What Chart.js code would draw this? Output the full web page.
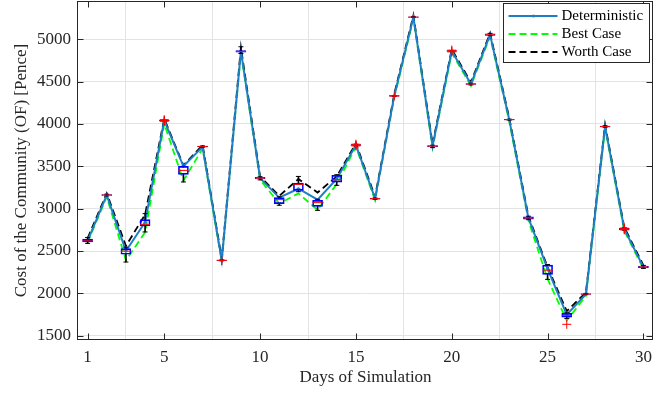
<!DOCTYPE html>
<html>
<head>
<meta charset="utf-8">
<script src="https://cdn.jsdelivr.net/npm/chart.js@4.4.0/dist/chart.umd.min.js"></script>
<style>
  html, body { margin: 0; padding: 0; background: #fff; }
</style>
</head>
<body>
<canvas id="chart" width="670" height="394"></canvas>
<script>
/* -------------------------------------
   DATA
------------------------------------- */
const days = [1,2,3,4,5,6,7,8,9,10,11,12,13,14,15,16,17,18,19,20,21,22,23,24,25,26,27,28,29,30];
const xTicks = [1, 5, 10, 15, 20, 25, 30];
const yTicks = [1500, 2000, 2500, 3000, 3500, 4000, 4500, 5000];

const deterministic = [2620,3160,2500,2840,4040,3500,3730,2390,4860,3360,3130,3235,3105,3350,3750,3120,4330,5260,3740,4860,4470,5050,4050,2890,2290,1750,1990,3970,2760,2310];
const bestCase      = [2600,3140,2390,2720,4000,3330,3710,2375,4840,3340,3060,3180,2985,3290,3730,3100,4310,5240,3720,4840,4450,5030,4030,2860,2170,1680,1970,3950,2740,2290];
const worthCase     = [2650,3180,2560,2930,4060,3510,3750,2410,4900,3380,3150,3350,3190,3380,3770,3140,4350,5280,3760,4880,4490,5070,4070,2910,2310,1790,2010,3990,2780,2330];

// boxplot statistics per day
const boxLow  = [2590,3150,2370,2725,4035,3315,3725,2385,4830,3340,3040,3200,2980,3275,3740,3110,4325,5255,3720,4855,4460,5040,4045,2870,2165,1705,1985,3960,2745,2295];
const boxQ1   = [2607,3155,2462,2795,4037,3404,3727,2388,4845,3352,3059,3215,3027,3313,3745,3113,4327,5257,3732,4857,4465,5045,4047,2877,2224,1718,1988,3963,2752,2303];
const boxMed  = [2620,3160,2498,2815,4040,3451,3732,2390,4855,3360,3106,3286,3071,3341,3750,3118,4330,5260,3738,4860,4470,5052,4050,2890,2274,1740,1992,3968,2760,2312];
const boxQ3   = [2640,3165,2529,2870,4043,3498,3737,2392,4865,3368,3129,3301,3098,3392,3755,3123,4333,5263,3744,4863,4476,5062,4053,2903,2333,1765,1996,3973,2768,2322];
const boxHigh = [2660,3170,2545,2941,4045,3500,3740,2395,4910,3375,3140,3380,3110,3400,3760,3125,4335,5265,3748,4865,4480,5068,4055,2910,2340,1770,2000,3978,2775,2330];

// outliers (red +)
const outlierDays   = [5,5,5,8,15,15,15,17,20,20,20,26,29,29,29];
const outlierValues = [4030,4040,4050,2388,3740,3750,3760,4330,4850,4860,4870,1635,2750,2760,2770];

/* -------------------------------------
   STYLE
------------------------------------- */
const axisColor = '#262626';
const gridColor = '#e3e3e3';
const font = { family: '"Liberation Serif", "Times New Roman", serif', size: 17, lineHeight: 1.2 };

const pts = arr => days.map((d, i) => ({ x: d, y: arr[i] }));
const span = (a, b) => days.map((d, i) => ({ x: d, y: [a[i], b[i]] }));

/* -------------------------------------
   FRAME + INWARD TICKS (MATLAB look)
------------------------------------- */
const framePlugin = {
    id: 'frame',
    afterDraw(chart) {
        const { ctx, chartArea: a, scales: { x, y } } = chart;
        const L = Math.round(a.left) - 0.5, R = Math.round(a.right) - 0.5;
        const T = Math.round(a.top) + 0.5, B = Math.round(a.bottom) - 0.5;
        ctx.save();
        ctx.strokeStyle = axisColor;
        ctx.lineWidth = 1;
        ctx.beginPath();
        x.ticks.forEach(t => {
            const px = Math.round(x.getPixelForValue(t.value)) + 0.5;
            ctx.moveTo(px, B); ctx.lineTo(px, B - 6);
            ctx.moveTo(px, T); ctx.lineTo(px, T + 6);
        });
        y.ticks.forEach(t => {
            const py = Math.round(y.getPixelForValue(t.value)) + 0.5;
            ctx.moveTo(L, py); ctx.lineTo(L + 6, py);
            ctx.moveTo(R, py); ctx.lineTo(R - 6, py);
        });
        ctx.stroke();
        ctx.strokeRect(L, T, R - L, B - T);
        ctx.restore();
    }
};

/* -------------------------------------
   LEGEND BOX (top right inside the axes)
------------------------------------- */
const legendPlugin = {
    id: 'boxLegend',
    afterDraw(chart) {
        const { ctx, chartArea: a } = chart;
        const w = 146, h = 59;
        const x0 = Math.round(a.right) - 4 - w + 0.5, y0 = Math.round(a.top) + 2.5;
        ctx.save();
        ctx.fillStyle = '#fff';
        ctx.fillRect(x0, y0, w, h);
        ctx.strokeStyle = axisColor;
        ctx.lineWidth = 1;
        ctx.strokeRect(x0, y0, w, h);
        ctx.font = '15px "Liberation Serif", "Times New Roman", serif';
        ctx.textBaseline = 'middle';
        ctx.fillStyle = '#000';
        chart.data.datasets.filter(ds => ds.label).forEach((ds, i) => {
            const cy = y0 + 12.5 + i * 18;
            ctx.save();
            ctx.strokeStyle = ds.borderColor;
            ctx.lineWidth = ds.borderWidth;
            ctx.setLineDash(ds.borderDash || []);
            ctx.beginPath();
            ctx.moveTo(x0 + 5, cy);
            ctx.lineTo(x0 + 54, cy);
            ctx.stroke();
            if (ds.pointRadius) {
                ctx.fillStyle = ds.borderColor;
                ctx.beginPath();
                ctx.arc(x0 + 30, cy, ds.pointRadius, 0, Math.PI * 2);
                ctx.fill();
            }
            ctx.restore();
            ctx.fillText(ds.label, x0 + 58, cy);
        });
        ctx.restore();
    }
};

/* -------------------------------------
   CHART
------------------------------------- */
new Chart(document.getElementById('chart'), {
    type: 'scatter',
    data: {
        datasets: [
            { type: 'line', label: 'Deterministic', data: pts(deterministic),
              borderColor: '#1f7fc6', backgroundColor: '#1f7fc6', borderWidth: 2,
              pointRadius: 1.5, pointBorderWidth: 0, pointBackgroundColor: '#1f7fc6', tension: 0, order: 3 },
            { type: 'line', label: 'Best Case', data: pts(bestCase),
              borderColor: '#00ff00', borderWidth: 1.8, borderDash: [7, 4], pointRadius: 0, tension: 0, order: 5 },
            { type: 'line', label: 'Worth Case', data: pts(worthCase),
              borderColor: '#000000', borderWidth: 1.8, borderDash: [7, 4], pointRadius: 0, tension: 0, order: 4 },

            // whiskers
            { type: 'bar', data: span(boxLow, boxQ1), backgroundColor: '#000', borderWidth: 0,
              barThickness: 1, grouped: false, order: 2 },
            { type: 'bar', data: span(boxQ3, boxHigh), backgroundColor: '#000', borderWidth: 0,
              barThickness: 1, grouped: false, order: 2 },
            { type: 'scatter', data: pts(boxLow).concat(pts(boxHigh)), pointStyle: 'line',
              pointRadius: 2.5, pointBorderColor: '#000', pointBorderWidth: 1, order: 2 },

            // boxes
            { type: 'bar', data: span(boxQ1, boxQ3), backgroundColor: 'rgba(255,255,255,0)',
              borderColor: '#0000ff', borderWidth: 1, borderSkipped: false,
              barThickness: 10, grouped: false, order: 1 },

            // medians
            { type: 'scatter', data: pts(boxMed), pointStyle: 'line',
              pointRadius: 5, pointBorderColor: '#ff0000', pointBorderWidth: 1, order: 0 },

            // outliers
            { type: 'scatter', data: outlierDays.map((d, i) => ({ x: d, y: outlierValues[i] })),
              pointStyle: 'cross', pointRadius: 4.5, pointBorderColor: '#ff0000', pointBorderWidth: 1, order: 0 }
        ]
    },
    options: {
        responsive: false,
        animation: false,
        devicePixelRatio: 1,
        layout: { autoPadding: false, padding: { left: 0, right: 17, top: 1, bottom: 0 } },
        plugins: { legend: { display: false }, tooltip: { enabled: false } },
        scales: {
            x: {
                type: 'linear', min: 0.5, max: 30.5, offset: false,
                afterBuildTicks: s => { s.ticks = xTicks.map(v => ({ value: v })); },
                afterFit: s => { s.height = 54; s.paddingLeft = 0; s.paddingRight = 0; },
                ticks: { autoSkip: false, maxRotation: 0, padding: 7, color: axisColor, font,
                         callback: v => String(v) },
                grid: { color: gridColor, drawTicks: false, lineWidth: 1 },
                border: { display: false },
                title: { display: true, text: 'Days of Simulation', color: axisColor, font,
                         padding: { top: 0, bottom: 6 } }
            },
            y: {
                type: 'linear', min: 1450, max: 5450,
                afterBuildTicks: s => { s.ticks = yTicks.map(v => ({ value: v })); },
                afterFit: s => { s.width = 78; s.paddingTop = 0; s.paddingBottom = 0; },
                ticks: { autoSkip: false, padding: 7, color: axisColor, font,
                         callback: v => String(v) },
                grid: { color: gridColor, drawTicks: false, lineWidth: 1 },
                border: { display: false },
                title: { display: true, text: 'Cost of the Community (OF) [Pence]', color: axisColor, font,
                         padding: { top: 11, bottom: 0 } }
            }
        }
    },
    plugins: [framePlugin, legendPlugin]
});
</script>
</body>
</html>
